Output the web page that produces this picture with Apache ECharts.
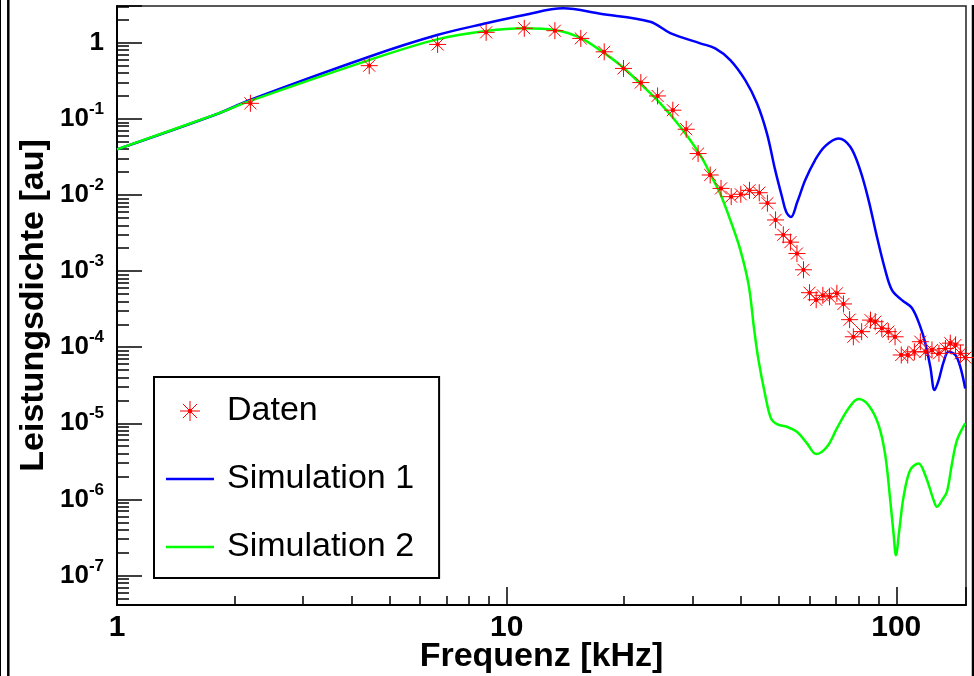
<!DOCTYPE html>
<html>
<head>
<meta charset="utf-8">
<script src="https://cdn.jsdelivr.net/npm/echarts@6/dist/echarts.min.js"></script>
<style>
  html, body { margin: 0; padding: 0; background: #ffffff; }
  #chart { width: 974px; height: 676px; }
</style>
</head>
<body>
<div id="chart"></div>
<script>
// Measured spectrum (frequency in kHz, power density in a.u.)
const datenFreq = [2.2, 4.44, 6.65, 8.86, 11.1, 13.3, 15.5, 17.8, 19.95, 22.1, 24.4, 26.7, 28.9, 31.0,
  33.3, 35.5, 37.7, 39.9, 42.0, 44.5, 46.7, 49.0, 51.3, 53.5, 55.6, 57.8, 59.9, 62.3, 64.8, 67.4,
  70.4, 73.2, 75.9, 77.6, 81.5, 85.9, 88.3, 91.8, 95.4, 99.3, 103, 107, 111.3, 115.3, 118.8,
  123.5, 128.7, 133.7, 137.6, 141.9, 146.1, 150.5];
const datenValue = [0.16, 0.50, 0.95, 1.37, 1.55, 1.44, 1.14, 0.76, 0.46, 0.30, 0.20, 0.13, 0.073, 0.035,
  0.0183, 0.0122, 0.0095, 0.0102, 0.0115, 0.0107, 0.0078, 0.0047, 0.0030, 0.0024, 0.0017, 0.00104,
  0.00052, 0.00042, 0.00048, 0.00046, 0.00051, 0.00037, 0.00023, 0.000137, 0.00016, 0.000227,
  0.000216, 0.000177, 0.00016, 0.000137, 7.9e-5, 7.9e-5, 8.7e-5, 0.000118, 8.7e-5, 9.2e-5, 8.3e-5,
  9.6e-5, 0.000113, 0.000107, 8.3e-5, 7.3e-5];

// Simulation 1
const sim1Freq = [1, 1.80, 2.195, 4.436, 6.63, 8.86, 11.1, 13.97, 17.39, 23.35, 26.3, 31.4,
  34.3, 37.5, 40.96, 43.9, 46.56, 48.9, 50.9, 52.2, 53.66, 55.7, 58.4, 61.9, 65.7, 71.1, 76.2, 80.8,
  84.9, 89.2, 93.7, 97.5, 103.4, 109.7, 115.3, 118.7, 122.3, 125.4, 128.5, 132.3, 136.2, 141.8, 146, 150.3];
const sim1Value = [0.0397, 0.115, 0.177, 0.655, 1.262, 1.80, 2.31, 2.83, 2.40, 1.888, 1.341, 0.982,
  0.844, 0.593, 0.323, 0.16, 0.0645, 0.0212, 0.00947, 0.00596, 0.00513, 0.00807, 0.0157, 0.0288, 0.0439,
  0.0554, 0.043, 0.0212, 0.00857, 0.00282, 0.00103, 0.000563, 0.000416, 0.000327, 0.000185, 0.000113,
  5.5e-5, 2.73e-5, 3.7e-5, 6.4e-5, 8.7e-5, 7.9e-5, 5.5e-5, 2.87e-5];

// Simulation 2
const sim2Freq = [1, 1.80, 2.195, 4.436, 6.63, 8.86, 11.1, 13.3, 15.5, 17.8, 19.56, 22.0, 24.8,
  27.9, 31.4, 33.6, 35.3, 37.5, 39.8, 41.8, 43.2, 44.3, 46.1, 47.7, 49.4, 52.4, 55.6, 59.0, 62.3, 66.4,
  70.4, 75.4, 80.0, 84.9, 90.1, 93.7, 96.5, 98.4, 99.8, 101.8, 104.4, 108.6, 114.1, 118.7, 124.7, 127.2,
  131.1, 134.9, 139.0, 143.2, 150.3];
const sim2Value = [0.0397, 0.1156, 0.172, 0.592, 1.108, 1.425, 1.546, 1.47, 1.15, 0.73, 0.509,
  0.293, 0.16, 0.0787, 0.0334, 0.0173, 0.0105, 0.00468, 0.00189, 0.000654, 0.000168, 6.77e-5, 2.34e-5,
  1.16e-5, 9.77e-6, 9.0e-6, 7.73e-6, 5.44e-6, 3.94e-6, 4.91e-6, 8.57e-6, 1.57e-5, 2.08e-5, 1.73e-5,
  9.46e-6, 3.82e-6, 9.8e-7, 3.57e-7, 1.85e-7, 3.95e-7, 1.08e-6, 2.43e-6, 2.97e-6, 2.08e-6, 9.8e-7,
  8.0e-7, 9.8e-7, 1.26e-6, 2.97e-6, 6.0e-6, 9.97e-6];

// Labelled decades on both axes
const xTickValues = [1, 10, 100];
const xTickLabels = ['1', '10', '100'];
const yTickValues = [1e-7, 1e-6, 1e-5, 1e-4, 1e-3, 1e-2, 1e-1, 1];
const yTickLabels = ['{b|10}{s|-7}', '{b|10}{s|-6}', '{b|10}{s|-5}', '{b|10}{s|-4}',
  '{b|10}{s|-3}', '{b|10}{s|-2}', '{b|10}{s|-1}', '{b|1}'];

const seriesNames = ['Daten', 'Simulation 1', 'Simulation 2'];

const FONT = '"Liberation Sans", Arial, Helvetica, sans-serif';
const STAR = 'path://M0,-8L0,8M-8,0L8,0M-5.66,-5.66L5.66,5.66M-5.66,5.66L5.66,-5.66M-1.3,-1.3L1.3,-1.3L1.3,1.3L-1.3,1.3Z';
const BAR = 'path://M0,0L48,0L48,2.5L0,2.5Z';

function zip(xs, ys) { return xs.map((x, i) => [x, ys[i]]); }
function pickLabel(values, labels) {
  return function (v) {
    for (let i = 0; i < values.length; i++) {
      if (Math.abs(v / values[i] - 1) < 1e-6) return labels[i];
    }
    return '';
  };
}

const chart = echarts.init(document.getElementById('chart'), null, { renderer: 'canvas' });

chart.setOption({
  animation: false,
  backgroundColor: '#ffffff',
  grid: {
    left: 117, top: 6, width: 849, height: 599,
    show: true, borderColor: '#222', borderWidth: 1.5, backgroundColor: 'transparent',
    containLabel: false, outerBoundsMode: 'none'
  },
  xAxis: {
    type: 'log', logBase: 10, min: 1, max: 151,
    name: 'Frequenz [kHz]', nameLocation: 'middle', nameGap: 35, nameMoveOverlap: false,
    nameTextStyle: { fontFamily: FONT, fontWeight: 'bold', fontSize: 34, color: '#000' },
    axisLine: { show: true, onZero: false, lineStyle: { color: '#000', width: 2 } },
    axisTick: { show: true, inside: true, length: 18, lineStyle: { color: '#000', width: 1.5 } },
    minorTick: { show: true, splitNumber: 9, length: 9, lineStyle: { color: '#000', width: 1.5 } },
    splitLine: { show: false }, minorSplitLine: { show: false },
    axisLabel: {
      show: true, margin: 8, showMinLabel: true, showMaxLabel: true, hideOverlap: false,
      fontFamily: FONT, fontWeight: 'bold', fontSize: 30, color: '#000',
      formatter: pickLabel(xTickValues, xTickLabels)
    }
  },
  yAxis: {
    type: 'log', logBase: 10, min: 4.1e-8, max: 3.04, splitNumber: 10,
    name: 'Leistungsdichte [au]', nameLocation: 'middle', nameGap: 66, nameMoveOverlap: false,
    nameTextStyle: { fontFamily: FONT, fontWeight: 'bold', fontSize: 34, color: '#000' },
    axisLine: { show: true, onZero: false, lineStyle: { color: '#000', width: 2 } },
    axisTick: { show: true, inside: true, length: 25, lineStyle: { color: '#000', width: 1.5 } },
    minorTick: { show: true, splitNumber: 9, length: 12, lineStyle: { color: '#000', width: 1.5 } },
    splitLine: { show: false }, minorSplitLine: { show: false },
    axisLabel: {
      show: true, margin: 13, showMinLabel: true, showMaxLabel: true, hideOverlap: false,
      color: '#000',
      formatter: pickLabel(yTickValues, yTickLabels),
      rich: {
        b: { fontFamily: FONT, fontWeight: 'bold', fontSize: 26, lineHeight: 36, color: '#000' },
        s: { fontFamily: FONT, fontWeight: 'bold', fontSize: 17, lineHeight: 12, verticalAlign: 'top', color: '#000' }
      }
    }
  },
  legend: {
    orient: 'vertical', left: 154, top: 377,
    padding: [17, 25, 14, 12], itemGap: 34, itemWidth: 48, itemHeight: 20,
    backgroundColor: '#ffffff', borderColor: '#000', borderWidth: 2, borderRadius: 0,
    selectedMode: false,
    textStyle: { fontFamily: FONT, fontSize: 34, lineHeight: 34, color: '#000', padding: [0, 0, 0, 8] },
    data: [
      { name: seriesNames[0], icon: STAR, itemStyle: { color: '#ff0000', borderColor: '#ff0000', borderWidth: 1 } },
      { name: seriesNames[1], icon: BAR, itemStyle: { color: '#0000ff', borderWidth: 0 } },
      { name: seriesNames[2], icon: BAR, itemStyle: { color: '#00ff00', borderWidth: 0 } }
    ]
  },
  graphic: [
    { type: 'line', silent: true, shape: { x1: 0.5, y1: 0, x2: 0.5, y2: 676 }, style: { stroke: '#000', lineWidth: 1 } },
    { type: 'line', silent: true, shape: { x1: 8.3, y1: 0, x2: 8.3, y2: 676 }, style: { stroke: '#000', lineWidth: 2.5 } },
    { type: 'line', silent: true, shape: { x1: 973, y1: 5, x2: 973, y2: 676 }, style: { stroke: '#000', lineWidth: 2.5 } }
  ],
  series: [
    {
      name: seriesNames[1], type: 'line', z: 2,
      data: zip(sim1Freq, sim1Value), symbol: 'none', smooth: 0.35, clip: true,
      lineStyle: { color: '#0000ff', width: 2.5 }, itemStyle: { color: '#0000ff' }
    },
    {
      name: seriesNames[2], type: 'line', z: 3,
      data: zip(sim2Freq, sim2Value), symbol: 'none', smooth: 0.35, clip: true,
      lineStyle: { color: '#00ff00', width: 2.5 }, itemStyle: { color: '#00ff00' }
    },
    {
      name: seriesNames[0], type: 'line', z: 4,
      data: zip(datenFreq, datenValue), symbol: STAR, symbolSize: 17, showSymbol: true, clip: true,
      lineStyle: { color: '#ff0000', width: 0, opacity: 0 },
      itemStyle: { color: '#ff0000', borderColor: '#ff0000', borderWidth: 1 }
    }
  ]
});
</script>
</body>
</html>
